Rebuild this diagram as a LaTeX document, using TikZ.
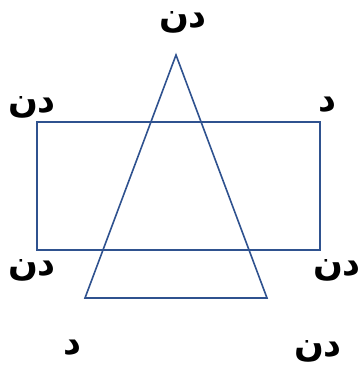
\documentclass[tikz,border=0pt]{standalone}
\usepackage{fontspec}
\newfontfamily\arabicfont[Script=Arabic,BoldFont={DejaVu Sans Bold}]{DejaVu Sans}
\TeXXeTstate=1
\definecolor{shapeblue}{HTML}{2F528F}
\tikzset{
  shapeline/.style={draw=shapeblue, line width=1.6pt},
  lbl/.style={font=\arabicfont\bfseries\fontsize{35}{40}\selectfont, inner sep=0pt, yshift=-3pt}
}
\begin{document}
\begin{tikzpicture}[x=1pt,y=-1pt]
\useasboundingbox (0,0) rectangle (362,367);
\coordinate (r1) at (37,122);
\coordinate (r2) at (320,250);
\draw[shapeline] (r1) rectangle (r2);
\coordinate (ta) at (176,55);
\coordinate (tb) at (85,298);
\coordinate (tc) at (267,298);
\draw[shapeline] (ta) -- (tb) -- (tc) -- cycle;
\node[lbl] (l1) at (183,19) {\beginR دن\endR};
\node[lbl] (l2) at (32,104) {\beginR دن\endR};
\node[lbl] (l3) at (327,102) {\beginR د\endR};
\node[lbl] (l4) at (32,267) {\beginR دن\endR};
\node[lbl] (l5) at (337,267) {\beginR دن\endR};
\node[lbl] (l6) at (72,345) {\beginR د\endR};
\node[lbl] (l7) at (318,348) {\beginR دن\endR};
\end{tikzpicture}
\end{document}
